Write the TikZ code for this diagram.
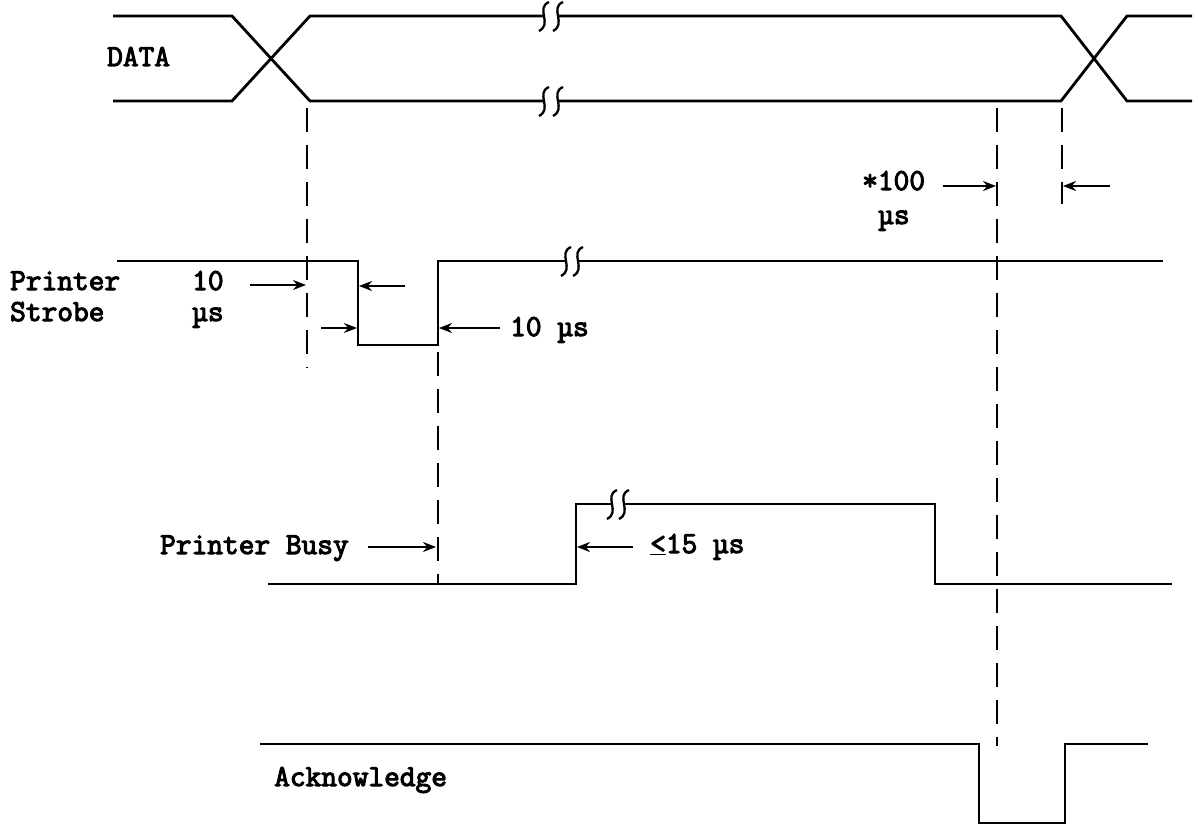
\documentclass[tikz,border=0pt]{standalone}
\usepackage{fontspec}
\newfontfamily\twfont{Latin Modern Mono}[FakeBold=3.5]
\usetikzlibrary{arrows.meta}
\newcommand\mylblfont{\twfont\fontsize{30.5}{34}\selectfont}
\begin{document}
\begin{tikzpicture}[x=1pt,y=-1pt,
  sig/.style={line width=2.8pt, line join=miter, line cap=butt},
  guide/.style={line width=2.8pt, dash pattern=on 24pt off 13pt},
  arr/.style={line width=2.3pt, -{Stealth[length=13pt,width=10pt]}},
  lbl/.style={font=\mylblfont, inner sep=0pt, anchor=base west},
  brkline/.style={line width=2.3pt},
  brk/.pic={\draw[brkline] (5,-14) .. controls (-9,-8) and (9,8) .. (-5,15);}]
\fill[white] (0,0) rectangle (1198,826);
\useasboundingbox (0,0) rectangle (1198,826);

% ---------------- labels
\node[lbl] (data) at (107,66) {DATA};
\node[lbl] (ps1) at (10,290) {Printer};
\node[lbl] (ps2) at (10,321) {Strobe};
\node[lbl] (t1a) at (192,290) {10};
\node[lbl] (t1b) at (192,321) {µs};
\node[lbl] (t2) at (510,336) {10 µs};
\node[lbl] (t3a) at (862,190) {*100};
\node[lbl] (t3b) at (878,224) {µs};
\node[lbl] (pb) at (160,554) {Printer Busy};
\node[lbl] (t4) at (650,553) {\underline{<}15 µs};
\node[lbl] (ack) at (274,786) {Acknowledge};

% ---------------- DATA
\draw[sig] (113,16) -- (232,16) -- (310,101) -- (544,101);
\draw[sig] (558,101) -- (1061,101) -- (1127,16) -- (1192,16);
\draw[sig] (113,101) -- (232,101) -- (310,16) -- (544,16);
\draw[sig] (558,16) -- (1061,16) -- (1127,101) -- (1192,101);
\pic at (544,16) {brk}; \pic at (558,16) {brk};
\pic at (544,101) {brk}; \pic at (558,101) {brk};

% ---------------- Printer Strobe
\draw[sig] (117,261) -- (358,261) -- (358,345) -- (438,345) -- (438,261) -- (566,261);
\draw[sig] (578,261) -- (1163,261);
\pic at (566,261) {brk}; \pic at (578,261) {brk};

% ---------------- Printer Busy
\draw[sig] (268,584) -- (576,584) -- (576,504) -- (612,504);
\draw[sig] (624,504) -- (935,504) -- (935,584) -- (1172,584);
\pic at (612,504) {brk}; \pic at (624,504) {brk};

% ---------------- Acknowledge
\draw[sig] (260,744) -- (979,744) -- (979,823) -- (1065,823) -- (1065,744) -- (1148,744);

% ---------------- dashed guides
\coordinate (g1t) at (307,108); \coordinate (g1b) at (307,368);
\coordinate (g2t) at (438,352); \coordinate (g2b) at (438,584);
\coordinate (g3t) at (997,108); \coordinate (g3b) at (997,746);
\coordinate (g4t) at (1062,108); \coordinate (g4b) at (1062,204);
\draw[guide] (g1t) -- (g1b);
\draw[guide] (g2t) -- (g2b);
\draw[guide] (g3t) -- (g3b);
\draw[guide] (g4t) -- (g4b);

% ---------------- timing arrows
\coordinate (a1s) at (250,285); \coordinate (a1e) at (306,285);
\coordinate (a2s) at (405,286); \coordinate (a2e) at (359,286);
\coordinate (a3s) at (321,328); \coordinate (a3e) at (357,328);
\coordinate (a4s) at (500,328); \coordinate (a4e) at (439,328);
\coordinate (a5s) at (943,186); \coordinate (a5e) at (996,186);
\coordinate (a6s) at (1110,186); \coordinate (a6e) at (1063,186);
\coordinate (a7s) at (368,547); \coordinate (a7e) at (436,547);
\coordinate (a8s) at (633,547); \coordinate (a8e) at (577,547);
\draw[arr] (a1s) -- (a1e);
\draw[arr] (a2s) -- (a2e);
\draw[arr] (a3s) -- (a3e);
\draw[arr] (a4s) -- (a4e);
\draw[arr] (a5s) -- (a5e);
\draw[arr] (a6s) -- (a6e);
\draw[arr] (a7s) -- (a7e);
\draw[arr] (a8s) -- (a8e);
\end{tikzpicture}
\end{document}
